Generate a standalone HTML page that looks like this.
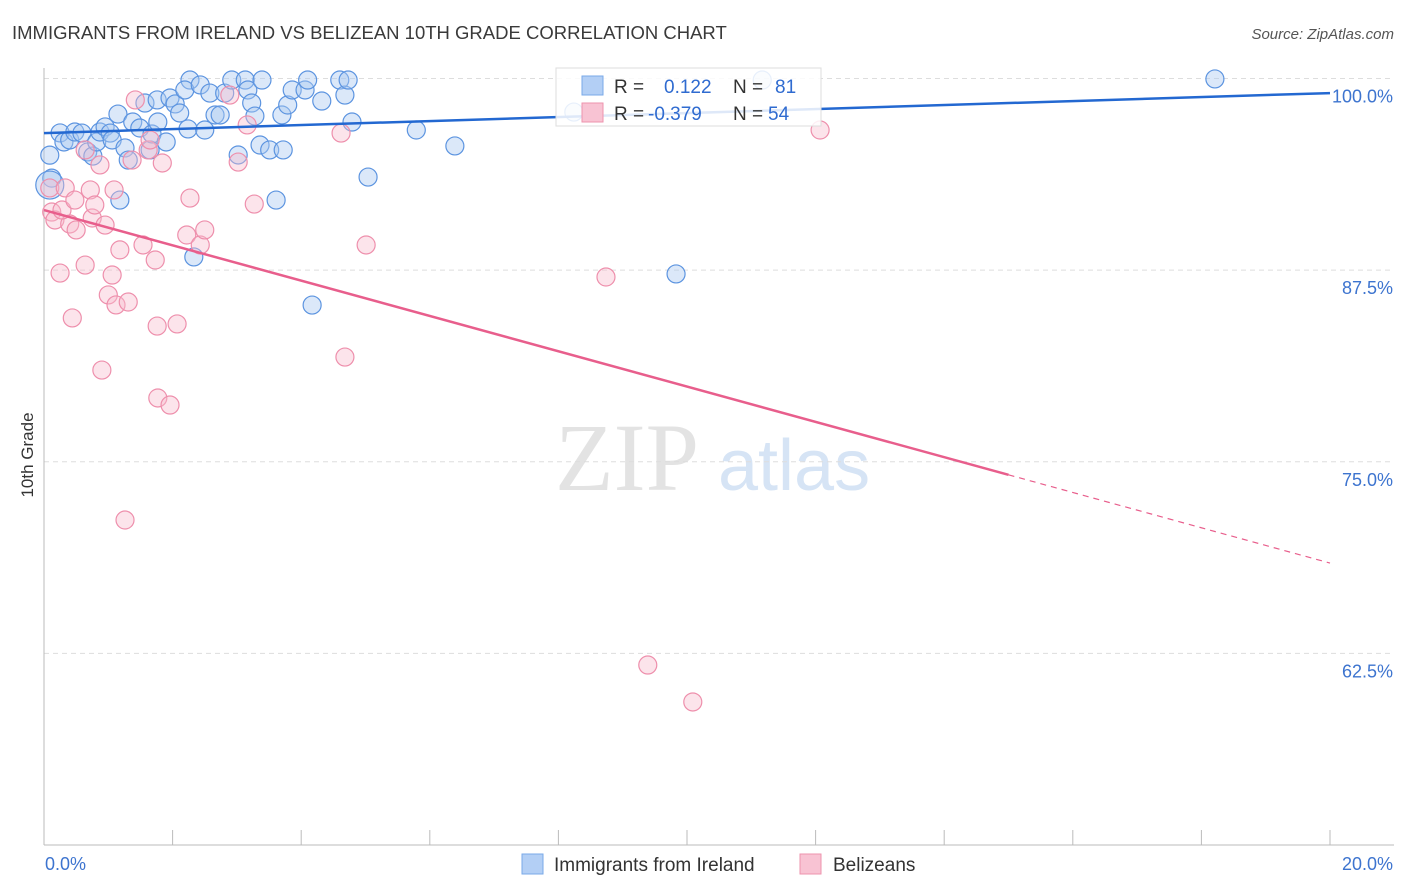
<!DOCTYPE html>
<html><head><meta charset="utf-8"><style>
body{margin:0;background:#fff;font-family:"Liberation Sans",sans-serif;}
#wrap{position:relative;width:1406px;height:892px;overflow:hidden}
</style></head><body>
<div id="wrap">
<svg id="svg" width="1406" height="892" xmlns="http://www.w3.org/2000/svg">
<text x="12" y="39" font-size="18.5" fill="#3a3a3a">IMMIGRANTS FROM IRELAND VS BELIZEAN 10TH GRADE CORRELATION CHART</text>
<text x="1394" y="39" font-size="15" fill="#555" font-style="italic" text-anchor="end">Source: ZipAtlas.com</text>
<text x="33" y="455" font-size="17" fill="#333" text-anchor="middle" transform="rotate(-90 33 455)">10th Grade</text>
<text x="555" y="490" font-size="96" fill="#e3e3e3" font-family="Liberation Serif,serif">ZIP</text>
<text x="718" y="490" font-size="72" fill="#d6e4f5">atlas</text>
<g id="grid"></g><g id="marks"></g><g id="lines"></g>
<g>
<rect x="556" y="68" width="265" height="58" fill="#fff" fill-opacity="0.85" stroke="#ddd"/>
<rect x="582" y="76" width="21" height="19" fill="#b3cff5" stroke="#7aaae8"/>
<rect x="582" y="103" width="21" height="19" fill="#f8c3d3" stroke="#ee93ae"/>
<text x="614" y="93" font-size="19" fill="#333">R =</text><text x="664" y="93" font-size="19" fill="#2f6bd0">0.122</text>
<text x="733" y="93" font-size="19" fill="#333">N =</text><text x="775" y="93" font-size="19" fill="#2f6bd0">81</text>
<text x="614" y="120" font-size="19" fill="#333">R =</text><text x="648" y="120" font-size="19" fill="#2f6bd0">-0.379</text>
<text x="733" y="120" font-size="19" fill="#333">N =</text><text x="768" y="120" font-size="19" fill="#2f6bd0">54</text>
</g>
<g>
<rect x="522" y="854" width="21" height="20" fill="#b3cff5" stroke="#7aaae8"/>
<text x="554" y="871" font-size="19" fill="#333">Immigrants from Ireland</text>
<rect x="800" y="854" width="21" height="20" fill="#f8c3d3" stroke="#ee93ae"/>
<text x="833" y="871" font-size="19" fill="#333">Belizeans</text>
</g>
</svg>
</div>
<script>
const xTicks=[0,2,4,6,8,10,12,14,16,18,20];
const yTicks=[100,87.5,75,62.5];
const yTickLabels=["100.0%","87.5%","75.0%","62.5%"];
const blueX=[0.09,0.12,0.09,0.25,0.31,0.40,0.48,0.59,0.68,0.76,0.82,0.87,0.95,1.03,1.06,1.15,1.18,1.26,1.31,1.38,1.49,1.57,1.65,1.68,1.76,1.77,1.90,1.96,2.04,2.11,2.24,2.27,2.19,2.43,2.50,2.58,2.66,2.74,2.81,2.92,3.02,3.13,3.17,3.23,3.28,3.36,3.39,3.51,3.61,3.72,3.70,3.79,3.86,4.06,4.10,4.32,4.17,4.60,4.68,4.73,4.79,5.04,2.33,5.79,6.39,9.83,11.17,18.21,8.24];
const blueY=[95.0,93.5,93.05,96.45,95.86,95.99,96.51,96.44,95.21,94.94,95.86,96.51,96.84,96.44,95.99,97.68,92.07,95.47,94.68,97.16,96.77,98.40,95.34,96.38,98.60,97.16,95.86,98.73,98.34,97.75,96.71,99.90,99.25,99.58,96.64,99.05,97.62,97.62,99.05,99.90,95.01,99.90,99.25,98.40,97.55,95.66,99.90,95.34,92.07,95.34,97.62,98.27,99.25,99.25,99.90,98.53,85.22,99.90,98.92,99.90,97.16,93.57,88.36,96.64,95.60,87.25,99.90,99.97,97.81];
const pinkX=[0.09,0.12,0.17,0.25,0.33,0.40,0.44,0.50,0.64,0.72,0.75,0.79,0.87,0.90,0.95,1.00,1.06,1.09,1.12,1.18,1.26,1.31,1.37,1.42,1.54,1.62,1.65,1.73,1.76,1.77,1.84,1.96,2.07,2.22,2.27,2.43,2.50,2.89,3.02,3.16,3.27,4.68,4.62,5.01,8.74,9.39,10.09,12.07,0.28,0.48,0.64];
const pinkY=[92.86,91.29,90.77,87.31,92.86,90.51,84.38,90.12,87.83,92.73,90.90,91.75,94.36,80.98,90.44,85.88,87.18,92.73,85.23,88.82,71.20,85.42,94.68,98.60,89.14,95.34,95.99,88.16,83.85,79.16,94.49,78.70,83.99,89.79,92.20,89.14,90.12,98.92,94.55,96.97,91.81,81.83,96.44,89.14,87.05,61.74,59.33,96.64,91.42,92.07,95.34];
const blueLine=[96.44,99.05];
const pinkLine=[91.42,68.39];
const pinkSolidEnd=15;
const X=v=>44+v*64.3, Y=v=>78.5+(100-v)*15.33;
const NS="http://www.w3.org/2000/svg";
function mk(tag,at,parent){const e=document.createElementNS(NS,tag);for(const k in at)e.setAttribute(k,at[k]);parent.appendChild(e);return e;}
const grid=document.getElementById('grid'),marks=document.getElementById('marks'),lines=document.getElementById('lines');
yTicks.forEach((t,i)=>{
 const l=mk('line',{x1:44,x2:1394,y1:Y(t),y2:Y(t),stroke:'#ddd','stroke-dasharray':'5,4'},grid);
 
 
 const tx=mk('text',{x:1393,y:Y(t)+24,'font-size':18,fill:'#3d74cf','text-anchor':'end'},grid);tx.textContent=yTickLabels[i];
 
 
});
mk('line',{x1:44,x2:44,y1:68,y2:845,stroke:'#bbb'},grid);
mk('line',{x1:44,x2:1394,y1:845,y2:845,stroke:'#bbb'},grid);
xTicks.forEach(t=>{const l=mk('line',{x1:X(t),x2:X(t),y1:830,y2:845,stroke:'#bbb'},grid);
 
 });
const a=mk('text',{x:45,y:870,'font-size':18,fill:'#3d74cf'},grid);a.textContent=xTicks[0].toFixed(1)+'%';


const b=mk('text',{x:1393,y:870,'font-size':18,fill:'#3d74cf','text-anchor':'end'},grid);b.textContent=xTicks[xTicks.length-1].toFixed(1)+'%';


blueX.forEach((x,i)=>{const c=mk('circle',{cx:X(x),cy:Y(blueY[i]),r:(i==2?14:9),fill:'#a9c8f0','fill-opacity':0.42,stroke:'#5c94e0','stroke-width':1.2},marks);
 
 });
pinkX.forEach((x,i)=>{const c=mk('circle',{cx:X(x),cy:Y(pinkY[i]),r:9,fill:'#f7bccd','fill-opacity':0.4,stroke:'#ee8fac','stroke-width':1.2},marks);
 
 });
const bl=mk('line',{x1:X(0),y1:Y(blueLine[0]),x2:X(20),y2:Y(blueLine[1]),stroke:'#2368d1','stroke-width':2.5},lines);


const pAt=v=>pinkLine[0]+(pinkLine[1]-pinkLine[0])*v/20;
const pl=mk('line',{x1:X(0),y1:Y(pAt(0)),x2:X(pinkSolidEnd),y2:Y(pAt(pinkSolidEnd)),stroke:'#e85e8c','stroke-width':2.5},lines);


const pd=mk('line',{x1:X(pinkSolidEnd),y1:Y(pAt(pinkSolidEnd)),x2:X(20),y2:Y(pAt(20)),stroke:'#e85e8c','stroke-width':1.2,'stroke-dasharray':'6,5'},lines);


</script>
</body></html>
